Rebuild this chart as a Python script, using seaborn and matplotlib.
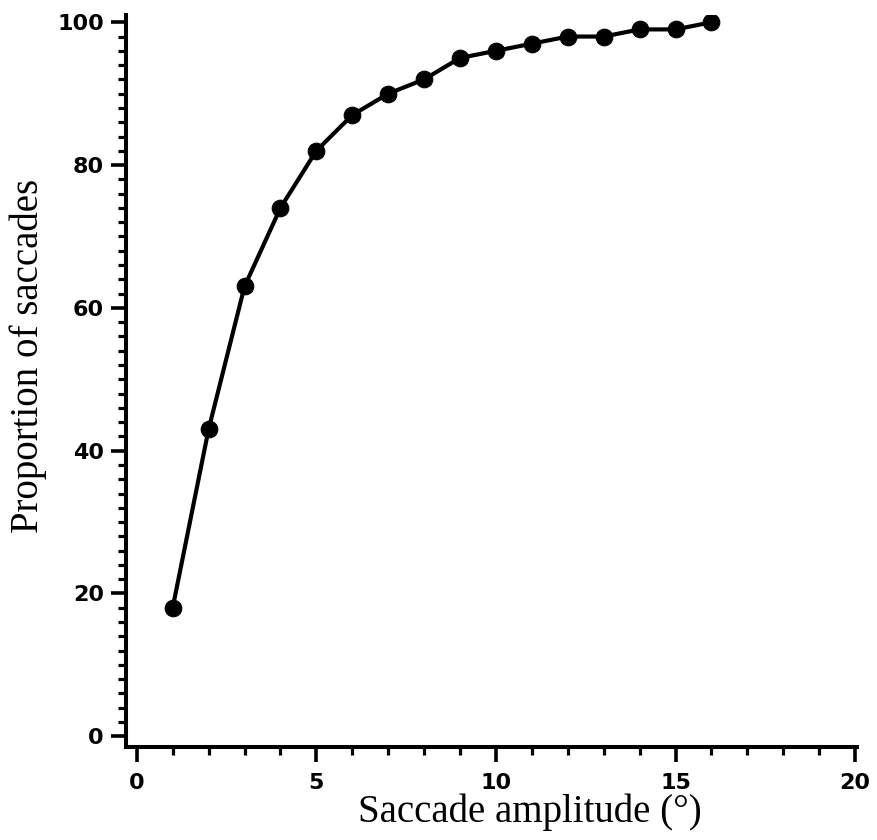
import matplotlib
matplotlib.use("Agg")
import matplotlib.pyplot as plt
import seaborn as sns
import pandas as pd
from matplotlib.ticker import MultipleLocator

amplitude = [1, 2, 3, 4, 5, 6, 7, 8, 9, 10, 11, 12, 13, 14, 15, 16]
proportion = [18, 43, 63, 74, 82, 87, 90, 92, 95, 96, 97, 98, 98, 99, 99, 100]

df = pd.DataFrame({"amp": amplitude, "prop": proportion})

sns.set_style("ticks")
fig = plt.figure(figsize=(8.78, 8.40), dpi=100)
ax = fig.add_axes([0.1435, 0.1107, 0.976 - 0.1435, 0.982 - 0.1107])

sns.lineplot(data=df, x="amp", y="prop", ax=ax, color="black", linewidth=3.0,
             marker="o", markersize=12, markeredgecolor="black", markerfacecolor="black")

ax.set_xlim(-0.3, 20.05)
ax.set_ylim(-1.5, 101)
ax.xaxis.set_major_locator(MultipleLocator(5))
ax.xaxis.set_minor_locator(MultipleLocator(1))
ax.yaxis.set_major_locator(MultipleLocator(20))
ax.yaxis.set_minor_locator(MultipleLocator(2))

sns.despine(ax=ax)
for s in ["left", "bottom"]:
    ax.spines[s].set_linewidth(2.9)
    ax.spines[s].set_color("black")

ax.tick_params(axis="both", which="major", length=11, width=2.6, color="black",
               labelcolor="black", labelsize=16)
ax.tick_params(axis="y", which="major", pad=5)
ax.tick_params(axis="x", which="major", pad=8)
ax.tick_params(axis="both", which="minor", length=5.5, width=2.3, color="black")

for lab in ax.get_xticklabels() + ax.get_yticklabels():
    lab.set_fontweight("bold")
    lab.set_family("DejaVu Sans")

ax.set_xlabel("Saccade amplitude (°)", fontsize=28, family="Liberation Serif",
              color="black", labelpad=0)
ax.set_ylabel("Proportion of saccades", fontsize=28, family="Liberation Serif",
              color="black", labelpad=7)
ax.xaxis.label.set_x(0.553)
ax.yaxis.label.set_y(0.534)

fig.savefig("out.png", dpi=100)
